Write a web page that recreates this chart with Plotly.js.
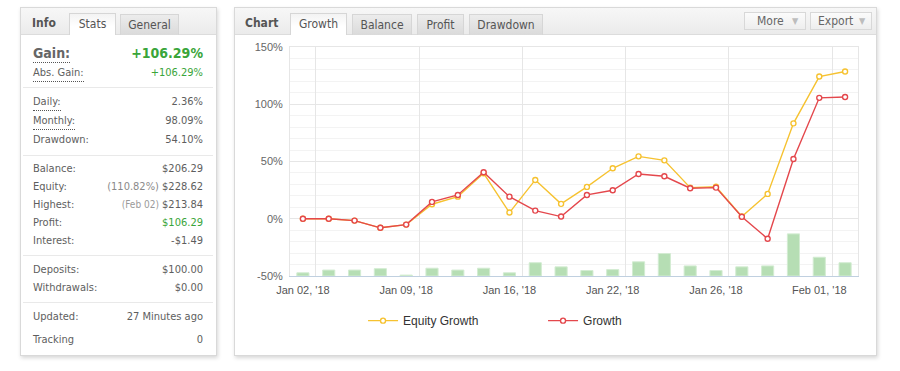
<!DOCTYPE html>
<html><head><meta charset="utf-8">
<script src="https://cdn.plot.ly/plotly-3.0.1.min.js"></script>
<style>
body{margin:0;width:900px;height:371px;background:#fff;position:relative;overflow:hidden;
 font-family:"DejaVu Sans Condensed","DejaVu Sans",sans-serif;font-stretch:condensed;color:#5e5e5e}
.box{position:absolute;top:7px;height:347px;border:1px solid #d9d9d9;background:#fff;box-shadow:1px 2px 4px rgba(0,0,0,0.16)}
.hdr{position:absolute;top:8px;height:26px;background:linear-gradient(#f7f7f7,#ebebeb);border-bottom:1px solid #dcdcdc}
.ttl{position:absolute;top:16px;height:15px;line-height:15px;font-size:12px;font-weight:bold;color:#555}
.tab{position:absolute;height:21px;line-height:21px;text-align:center;font-size:12px;color:#555;border:1px solid #d6d6d6;border-bottom:none;box-sizing:border-box}
.tab.on{top:13px;height:22px;background:linear-gradient(#f3f3f3,#ffffff 60%);}
.tab.off{top:14px;background:linear-gradient(#ececec,#dadada);}
.btn{position:absolute;top:12px;height:18px;box-sizing:border-box;border:1px solid #d8d8d8;background:linear-gradient(#fbfbfb,#eeeeee);font-size:12px;line-height:16px;color:#666}
.btn span.t{position:absolute;top:0}
.btn span.a{position:absolute;top:0;color:#bdbdbd;font-size:9px}
.row{position:absolute;left:33px;width:170px;height:14px;line-height:14px;font-size:11px}
.row .v{position:absolute;right:0;top:0;white-space:nowrap}
.row .l{position:absolute;left:0;top:0;white-space:nowrap}
.dot{border-bottom:1px dotted #555;padding-bottom:1px}
.sep{position:absolute;left:23px;width:190px;height:1px;background:#e9e9e9}
.g{color:#3aa53a}
.m{color:#8a8a8a}
#chart{position:absolute;left:235px;top:36px;width:640px;height:319px}
</style></head><body>
<!-- Info panel -->
<div class="box" style="left:20px;width:195px"></div>
<div class="hdr" style="left:21px;width:195px"></div>
<div class="ttl" style="left:32px">Info</div>
<div class="tab on" style="left:69px;width:47px">Stats</div>
<div class="tab off" style="left:120px;width:59px">General</div>

<div class="row" style="top:44px;height:18px;line-height:18px">
 <span class="l dot" style="font-size:14px;font-weight:bold;color:#666;padding-bottom:0">Gain:</span>
 <span class="v g" style="font-size:14px;font-weight:bold">+106.29%</span></div>
<div class="row" style="top:66px"><span class="l dot">Abs. Gain:</span><span class="v g">+106.29%</span></div>
<div class="sep" style="top:87px"></div>
<div class="row" style="top:95px"><span class="l dot">Daily:</span><span class="v">2.36%</span></div>
<div class="row" style="top:114px"><span class="l dot">Monthly:</span><span class="v">98.09%</span></div>
<div class="row" style="top:133px"><span class="l">Drawdown:</span><span class="v">54.10%</span></div>
<div class="sep" style="top:155px"></div>
<div class="row" style="top:162px"><span class="l">Balance:</span><span class="v">$206.29</span></div>
<div class="row" style="top:180px"><span class="l">Equity:</span><span class="v"><span class="m">(110.82%)</span> $228.62</span></div>
<div class="row" style="top:198px"><span class="l">Highest:</span><span class="v"><span style="color:#9a9a9a;font-size:10px">(Feb 02)</span> $213.84</span></div>
<div class="row" style="top:216px"><span class="l">Profit:</span><span class="v g">$106.29</span></div>
<div class="row" style="top:234px"><span class="l">Interest:</span><span class="v">-$1.49</span></div>
<div class="sep" style="top:255px"></div>
<div class="row" style="top:263px"><span class="l">Deposits:</span><span class="v">$100.00</span></div>
<div class="row" style="top:281px"><span class="l">Withdrawals:</span><span class="v">$0.00</span></div>
<div class="sep" style="top:302px"></div>
<div class="row" style="top:310px"><span class="l">Updated:</span><span class="v">27 Minutes ago</span></div>
<div class="row" style="top:333px"><span class="l">Tracking</span><span class="v">0</span></div>

<!-- Chart panel -->
<div class="box" style="left:234px;width:641px"></div>
<div class="hdr" style="left:235px;width:641px"></div>
<div class="ttl" style="left:245px">Chart</div>
<div class="tab on" style="left:290px;width:57px">Growth</div>
<div class="tab off" style="left:352px;width:60px">Balance</div>
<div class="tab off" style="left:417px;width:47px">Profit</div>
<div class="tab off" style="left:469px;width:74px">Drawdown</div>
<div class="btn" style="left:744px;width:62px"><span class="t" style="left:12px">More</span><span class="a" style="left:47px">&#9660;</span></div>
<div class="btn" style="left:810px;width:62px"><span class="t" style="left:7px">Export</span><span class="a" style="left:48px">&#9660;</span></div>

<div id="chart"></div>
<script>
const dates = ["Jan 02, '18","Jan 03, '18","Jan 04, '18","Jan 05, '18","Jan 09, '18","Jan 10, '18","Jan 11, '18","Jan 12, '18",
 "Jan 16, '18","Jan 17, '18","Jan 18, '18","Jan 19, '18","Jan 22, '18","Jan 23, '18","Jan 24, '18","Jan 25, '18",
 "Jan 26, '18","Jan 29, '18","Jan 30, '18","Jan 31, '18","Feb 01, '18","Feb 02, '18"];
const equityGrowth = [0,0,-1.6,-7.9,-5.1,12.7,19.3,39.7,5.4,33.9,13.0,27.8,44.1,54.5,51.0,27.2,28.0,1.9,21.7,83.3,124.2,128.6];
const growth = [0,0,-1.6,-7.9,-5.1,14.7,20.8,40.6,19.3,7.1,1.9,20.8,24.9,39.1,37.1,26.7,27.2,1.7,-17.5,52.2,105.6,106.3];
const dailyBars = [0.7,1.3,1.3,1.6,0.2,1.7,1.3,1.7,0.7,2.9,2.0,1.2,1.4,3.1,4.9,2.2,1.2,2.0,2.2,9.2,4.1,2.9];
const yTicks = [-50,0,50,100,150];
const yTickText = ["-50%","0%","50%","100%","150%"];

const idx = dates.map((d,i)=>i);
const tickIdx = idx.filter(i=>i%4===0);
const tickText = tickIdx.map(i=>dates[i]);
const gridIdx = tickIdx.map(i=>i+0.5);
const xr = [-0.5, dates.length-0.5];
const FONT = '"Liberation Sans", Arial, sans-serif';

const traces = [
 {type:'bar', x:idx, y:dailyBars, xaxis:'x', yaxis:'y', width:0.47, showlegend:false, hoverinfo:'skip',
  marker:{color:'#b6deb4', line:{color:'#d3ecd2', width:1}}},
 {type:'scatter', mode:'lines+markers', name:'Equity Growth', x:idx, y:equityGrowth, xaxis:'x2', yaxis:'y2',
  line:{color:'#f6c230', width:1.4}, marker:{symbol:'circle', size:5, color:'#ffffff', line:{color:'#f6c230', width:1.4}}},
 {type:'scatter', mode:'lines+markers', name:'Growth', x:idx, y:growth, xaxis:'x2', yaxis:'y2',
  line:{color:'#e4474c', width:1.4}, marker:{symbol:'circle', size:5, color:'#ffffff', line:{color:'#e4474c', width:1.4}}}
];
const layout = {
 width:640, height:319, margin:{l:55, r:17, t:11, b:79},
 paper_bgcolor:'rgba(0,0,0,0)', plot_bgcolor:'#ffffff',
 showlegend:true, bargap:0,
 font:{family:FONT, size:11, color:'#555'},
 xaxis:{range:xr, side:'top', tickvals:gridIdx, showticklabels:false, ticks:'', showgrid:true, gridcolor:'#e6e6e6',
  zeroline:false, showline:true, linecolor:'#e6e6e6', linewidth:1, fixedrange:true},
 yaxis:{range:[0,50], visible:false, fixedrange:true},
 xaxis2:{overlaying:'x', range:xr, side:'bottom', tickvals:tickIdx, ticktext:tickText, showgrid:false, zeroline:false,
  showline:true, linecolor:'#c0d0e0', linewidth:1, ticks:'outside', ticklen:4, tickcolor:'rgba(0,0,0,0)',
  tickfont:{family:FONT, size:11, color:'#555'}, fixedrange:true},
 yaxis2:{overlaying:'y', side:'left', range:[-50,150], tickvals:yTicks, ticktext:yTickText, showgrid:true, gridcolor:'#e6e6e6',
  minor:{dtick:10, showgrid:true, gridcolor:'#f3f3f3', ticks:''},
  zeroline:false, showline:true, mirror:true, linecolor:'#e6e6e6', ticks:'outside', ticklen:4, tickcolor:'rgba(0,0,0,0)',
  tickfont:{family:FONT, size:11, color:'#666'}, fixedrange:true},
 legend:{orientation:'h', x:0.1286, xanchor:'left', y:-0.195, yanchor:'middle', entrywidth:135,
  font:{family:FONT, size:12, color:'#333'}, bgcolor:'rgba(0,0,0,0)'}
};
Plotly.newPlot('chart', traces, layout, {displayModeBar:false, staticPlot:true});
</script>
</body></html>
